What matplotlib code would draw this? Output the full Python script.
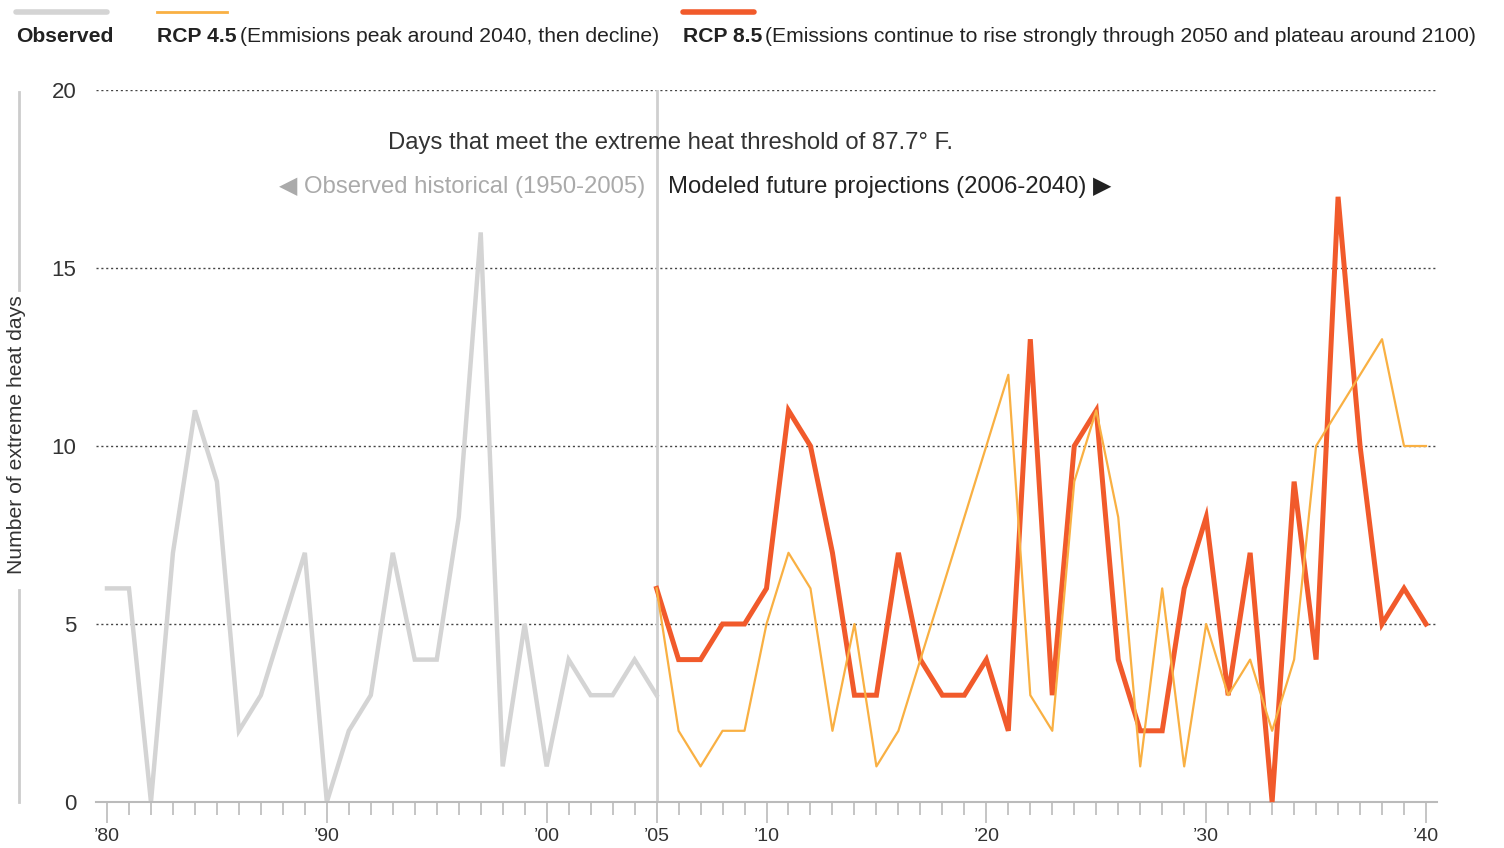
import matplotlib.pyplot as plt
from matplotlib.lines import Line2D

# Data
obs_years = list(range(1980, 2006))
observed = [6, 6, 0, 7, 11, 9, 2, 3, 5, 7, 0, 2, 3, 7, 4, 4, 8, 16, 1, 5, 1, 4, 3, 3, 4, 3]

proj_years = list(range(2005, 2041))
rcp45 = [6, 2, 1, 2, 2, 5, 7, 6, 2, 5, 1, 2, 4, 6, 8, 10, 12, 3, 2, 9, 11, 8, 1, 6, 1,
         5, 3, 4, 2, 4, 10, 11, 12, 13, 10, 10]
rcp85 = [6, 4, 4, 5, 5, 6, 11, 10, 7, 3, 3, 7, 4, 3, 3, 4, 2, 13, 3, 10, 11, 4, 2, 2, 6,
         8, 3, 7, 0, 9, 4, 17, 10, 5, 6, 5]

major_years = [1980, 1990, 2000, 2005, 2010, 2020, 2030, 2040]
major_labels = ["’80", "’90", "’00", "’05", "’10", "’20", "’30", "’40"]
y_ticks = [0, 5, 10, 15, 20]

c_obs = "#d4d4d4"
c_45 = "#f9b043"
c_85 = "#f15a2b"
font = ["Liberation Sans", "DejaVu Sans"]

W, H = 1504, 848
fig = plt.figure(figsize=(W / 100, H / 100), dpi=100)


def fx(px):
    return px / W


def fy(py):
    return 1 - py / H


ax = fig.add_axes([fx(96), fy(802), fx(1437) - fx(96), fy(90) - fy(802)])

for v in y_ticks[1:]:
    ax.axhline(v, color="#444444", lw=1, ls=(0, (1.5, 2)), zorder=1)
ax.axvline(2005, color="#cfcfcf", lw=2, zorder=1)

ax.plot(obs_years, observed, color=c_obs, lw=3.2, zorder=2, clip_on=False,
        solid_joinstyle="miter")
ax.plot(proj_years, rcp85, color=c_85, lw=3.6, zorder=3, clip_on=False,
        solid_joinstyle="miter")
ax.plot(proj_years, rcp45, color=c_45, lw=1.6, zorder=4, clip_on=False)

ax.set_xlim(1979.5, 2040.5)
ax.set_ylim(0, 20)

for s in ["left", "top", "right"]:
    ax.spines[s].set_visible(False)
ax.spines["bottom"].set_color("#bbbbbb")
ax.spines["bottom"].set_linewidth(1.5)

ax.set_xticks(major_years)
ax.set_xticklabels(major_labels, family=font, fontsize=14, color="#333333")
ax.set_xticks(range(1980, 2041), minor=True)
ax.tick_params(axis="x", which="major", length=15, width=1.2, color="#bbbbbb", pad=4)
ax.tick_params(axis="x", which="minor", length=9, width=1.2, color="#bbbbbb")

ax.set_yticks(y_ticks)
ax.set_yticklabels([str(v) for v in y_ticks], family=font, fontsize=16, color="#333333")
ax.tick_params(axis="y", length=0, pad=14)

# y axis label with broken line
fig.text(fx(17), fy(435), "Number of extreme heat days", rotation=90, ha="center",
         va="center", family=font, fontsize=15.2, color="#333333")
fig.add_artist(Line2D([fx(19), fx(19)], [fy(92), fy(290)], color="#cccccc", lw=2))
fig.add_artist(Line2D([fx(19), fx(19)], [fy(590), fy(802)], color="#cccccc", lw=2))

# annotations
fig.text(fx(670), fy(143), "Days that meet the extreme heat threshold of 87.7° F.",
         ha="center", va="center", family=font, fontsize=17.2, color="#333333")
fig.text(fx(645), fy(187), "◀ Observed historical (1950-2005)", ha="right", va="center",
         family=font, fontsize=17.2, color="#aaaaaa")
fig.text(fx(668), fy(187), "Modeled future projections (2006-2040) ▶", ha="left", va="center",
         family=font, fontsize=17.2, color="#222222")

# legend
fig.add_artist(Line2D([fx(16), fx(107)], [fy(12), fy(12)], color=c_obs, lw=4,
                      solid_capstyle="round"))
fig.add_artist(Line2D([fx(157), fx(227)], [fy(12), fy(12)], color=c_45, lw=2))
fig.add_artist(Line2D([fx(683), fx(754)], [fy(12), fy(12)], color=c_85, lw=4,
                      solid_capstyle="round"))

legend_y = fy(37)
fig.text(fx(16), legend_y, "Observed", ha="left", va="center", family=font,
         fontsize=15.2, weight="bold", color="#222222")
t = fig.text(fx(157), legend_y, "RCP 4.5", ha="left", va="center", family=font,
             fontsize=15.2, weight="bold", color="#222222")
fig.canvas.draw()
r = fig.canvas.get_renderer()
bb = t.get_window_extent(r)
fig.text(bb.x1 / W + 0.002, legend_y, "(Emmisions peak around 2040, then decline)",
         ha="left", va="center", family=font, fontsize=15.2, color="#222222")
t = fig.text(fx(683), legend_y, "RCP 8.5", ha="left", va="center", family=font,
             fontsize=15.2, weight="bold", color="#222222")
bb = t.get_window_extent(r)
fig.text(bb.x1 / W + 0.002, legend_y,
         "(Emissions continue to rise strongly through 2050 and plateau around 2100)",
         ha="left", va="center", family=font, fontsize=15.2, color="#222222")

fig.savefig("out.png", dpi=100)
